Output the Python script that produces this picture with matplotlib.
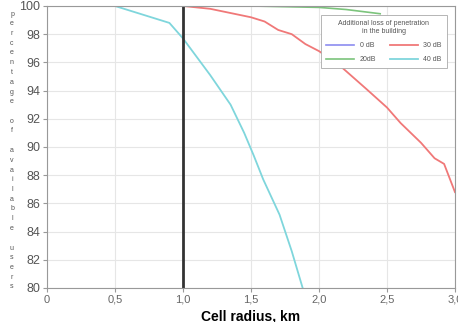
import matplotlib
matplotlib.use("Agg")
import matplotlib.pyplot as plt
import numpy as np

plt.rcParams['font.family'] = ['Liberation Sans', 'DejaVu Sans']

x_ticks = [0, 0.5, 1.0, 1.5, 2.0, 2.5, 3.0]
x_tick_labels = ["0", "0,5", "1,0", "1,5", "2,0", "2,5", "3,0"]
y_ticks = [80, 82, 84, 86, 88, 90, 92, 94, 96, 98, 100]

r_0db = [0.0, 3.0]
p_0db = [100, 100]

r_20db = [0.0, 1.5, 2.0, 2.2, 2.45]
p_20db = [100, 100, 99.9, 99.75, 99.45]

r_30db = [0.0, 1.0, 1.2, 1.35, 1.5, 1.6, 1.7, 1.8, 1.9, 2.0, 2.15, 2.35, 2.5, 2.6, 2.75, 2.85, 2.92, 3.0]
p_30db = [100, 100, 99.8, 99.5, 99.2, 98.9, 98.3, 98.0, 97.3, 96.8, 95.8, 94.1, 92.8, 91.7, 90.3, 89.2, 88.8, 86.8]

r_40db = [0.0, 0.5, 0.7, 0.9, 1.0, 1.1, 1.2, 1.35, 1.45, 1.52, 1.59, 1.71, 1.8, 1.88]
p_40db = [100, 100, 99.4, 98.8, 97.7, 96.4, 95.1, 93.0, 91.0, 89.4, 87.7, 85.2, 82.6, 80.0]

fig = plt.figure(figsize=(4.58, 3.22), dpi=100)
ax = fig.add_axes([0.1026, 0.1056, 0.8908, 0.8758])

l0, = ax.plot(r_0db, p_0db, color="#8c8cf0", lw=1.2, label="0 dB")
l20, = ax.plot(r_20db, p_20db, color="#7cc47c", lw=1.2, label="20dB")
l30, = ax.plot(r_30db, p_30db, color="#f07878", lw=1.3, label="30 dB")
l40, = ax.plot(r_40db, p_40db, color="#7fd6dc", lw=1.3, label="40 dB")

ax.axvline(1.0, color="#333333", lw=2)

ax.set_xlim(0, 3.0)
ax.set_ylim(80, 100)
ax.set_xticks(x_ticks)
ax.set_xticklabels(x_tick_labels, fontsize=8, color="#666666")
ax.set_yticks(y_ticks)
ax.set_yticklabels([str(v) for v in y_ticks], fontsize=9, color="#555555")
ax.grid(True, color="#e6e6e6", lw=0.8)
ax.tick_params(axis='both', length=3, color="#999999", pad=2)
for s in ax.spines.values():
    s.set_color("#999999")
    s.set_linewidth(0.8)

ax.set_xlabel("Cell radius, km", fontsize=10, fontweight="bold", labelpad=3)

leg = ax.legend(handles=[l0, l20, l30, l40], ncol=2, loc="upper right",
                title="Additional loss of penetration\nin the building",
                fontsize=5, title_fontsize=5, frameon=True, fancybox=False,
                edgecolor="#aaaaaa", framealpha=1, handlelength=4,
                bbox_to_anchor=(0.988, 0.979), borderpad=0.7, labelspacing=1.0,
                columnspacing=2.0)
leg.get_frame().set_linewidth(0.6)
leg.set_zorder(5)
for t in leg.get_texts():
    t.set_color("#555555")
leg.get_title().set_color("#555555")
leg.get_title().set_multialignment("center")

ylabel = "percentage of available users"
y_top, y_bot = 14, 287
n = len(ylabel)
for i, ch in enumerate(ylabel):
    ypix = y_top + (y_bot - y_top) * i / (n - 1)
    fig.text(12 / 458, 1 - ypix / 322, ch, fontsize=5, color="#555555",
             ha="center", va="center")

fig.savefig("out.png", dpi=100)
